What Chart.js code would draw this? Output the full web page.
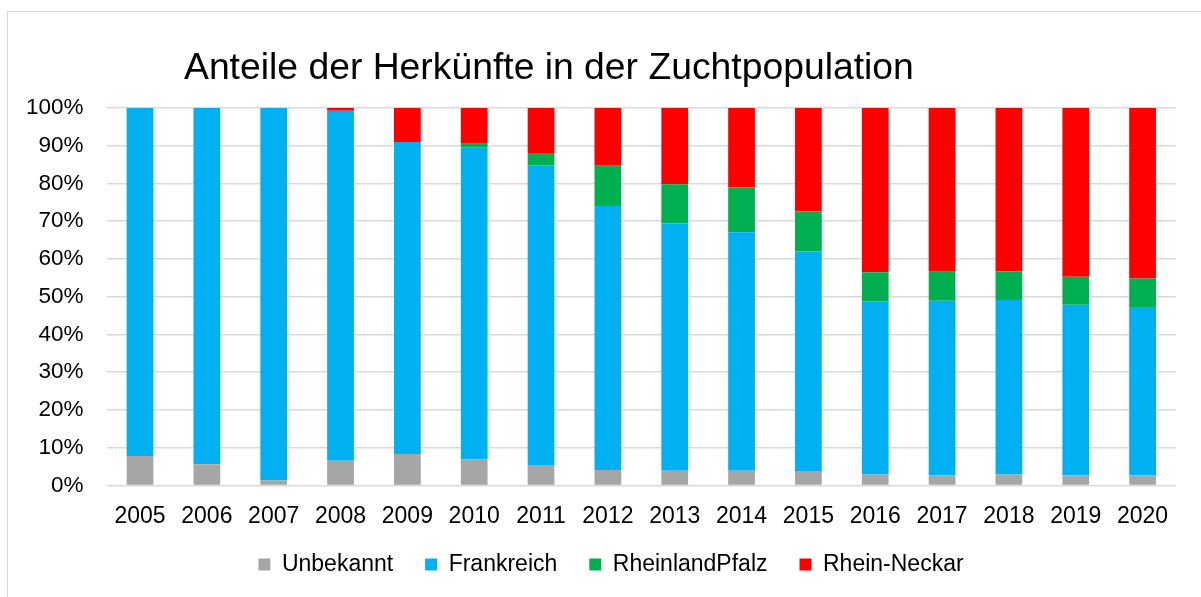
<!DOCTYPE html>
<html>
<head>
<meta charset="utf-8">
<script src="https://cdn.jsdelivr.net/npm/chart.js@4/dist/chart.umd.min.js"></script>
<style>
html,body{margin:0;padding:0;background:#fff;}
#wrap{width:1201px;height:597px;position:relative;}
</style>
</head>
<body>
<div id="wrap"><canvas id="c" width="1201" height="597"></canvas></div>
<script>
const title = "Anteile der Herkünfte in der Zuchtpopulation";
const years = ["2005","2006","2007","2008","2009","2010","2011","2012","2013","2014","2015","2016","2017","2018","2019","2020"];
const unbekannt      = [7.8, 5.6, 1.3, 6.5, 8.3, 6.9, 5.4, 4.1, 3.9, 3.9, 3.6, 2.9, 2.7, 2.9, 2.7, 2.7];
const frankreich     = [92.2, 94.4, 98.7, 92.8, 82.7, 82.6, 79.4, 69.9, 65.5, 63.2, 58.4, 45.9, 46.2, 46.2, 45.2, 44.6];
const rheinlandPfalz = [0, 0, 0, 0, 0, 1.0, 3.3, 10.7, 10.4, 11.9, 10.6, 7.7, 7.7, 7.6, 7.4, 7.5];
const rheinNeckar    = [0, 0, 0, 0.7, 9.0, 9.5, 11.9, 15.3, 20.2, 21.0, 27.4, 43.5, 43.4, 43.3, 44.7, 45.2];
const seriesNames = ["Unbekannt", "Frankreich", "RheinlandPfalz", "Rhein-Neckar"];

const FONT = "'Liberation Sans', Arial, sans-serif";

const frame = {
  id: 'frame',
  afterLayout(chart) {
    const lg = chart.legend;
    if (lg) {
      lg.left += 23; lg.right += 23;
      lg.top -= 26; lg.bottom -= 26;
    }
  },
  beforeDraw(chart) {
    const ctx = chart.ctx;
    ctx.save();
    ctx.fillStyle = '#ffffff';
    ctx.fillRect(0, 0, chart.width, chart.height);
    ctx.strokeStyle = '#d9d9d9';
    ctx.lineWidth = 1;
    ctx.strokeRect(7.5, 11.5, 1210, 620);
    ctx.restore();
  },
  afterDraw(chart) {
    const ctx = chart.ctx;
    ctx.save();
    ctx.fillStyle = '#000000';
    ctx.font = "37.3px " + FONT;
    ctx.textBaseline = 'alphabetic';
    ctx.textAlign = 'left';
    ctx.fillText(title, 184, 79);
    ctx.restore();
  }
};

new Chart(document.getElementById('c'), {
  type: 'bar',
  data: {
    labels: years,
    datasets: [
      { label: seriesNames[0], data: unbekannt, backgroundColor: '#a6a6a6' },
      { label: seriesNames[1], data: frankreich, backgroundColor: '#00b0f0' },
      { label: seriesNames[2], data: rheinlandPfalz, backgroundColor: '#00b050' },
      { label: seriesNames[3], data: rheinNeckar, backgroundColor: '#ff0000' }
    ]
  },
  options: {
    responsive: false,
    animation: false,
    devicePixelRatio: 1,
    layout: { padding: { top: 108, right: 25, left: 0, bottom: -15 } },
    datasets: { bar: { categoryPercentage: 1.0, barPercentage: 0.4, borderWidth: 0 } },
    scales: {
      x: {
        stacked: true,
        grid: { display: false, drawTicks: false },
        border: { display: false },
        ticks: { color: '#000', font: { family: FONT, size: 23 }, padding: 17, maxRotation: 0 }
      },
      y: {
        stacked: true,
        min: 0, max: 100,
        afterFit(scale) { scale.width = 106.6; },
        grid: { color: '#d9d9d9', lineWidth: 1.5, drawTicks: false },
        border: { display: false },
        ticks: { stepSize: 10, color: '#000', font: { family: FONT, size: 22.5 }, padding: 23,
                 callback: v => v + '%' }
      }
    },
    plugins: {
      title: { display: false },
      tooltip: { enabled: false },
      legend: {
        position: 'bottom',
        labels: { color: '#000', font: { family: FONT, size: 23 }, boxWidth: 12, boxHeight: 12, padding: 32 }
      }
    }
  },
  plugins: [frame]
});
</script>
</body>
</html>
